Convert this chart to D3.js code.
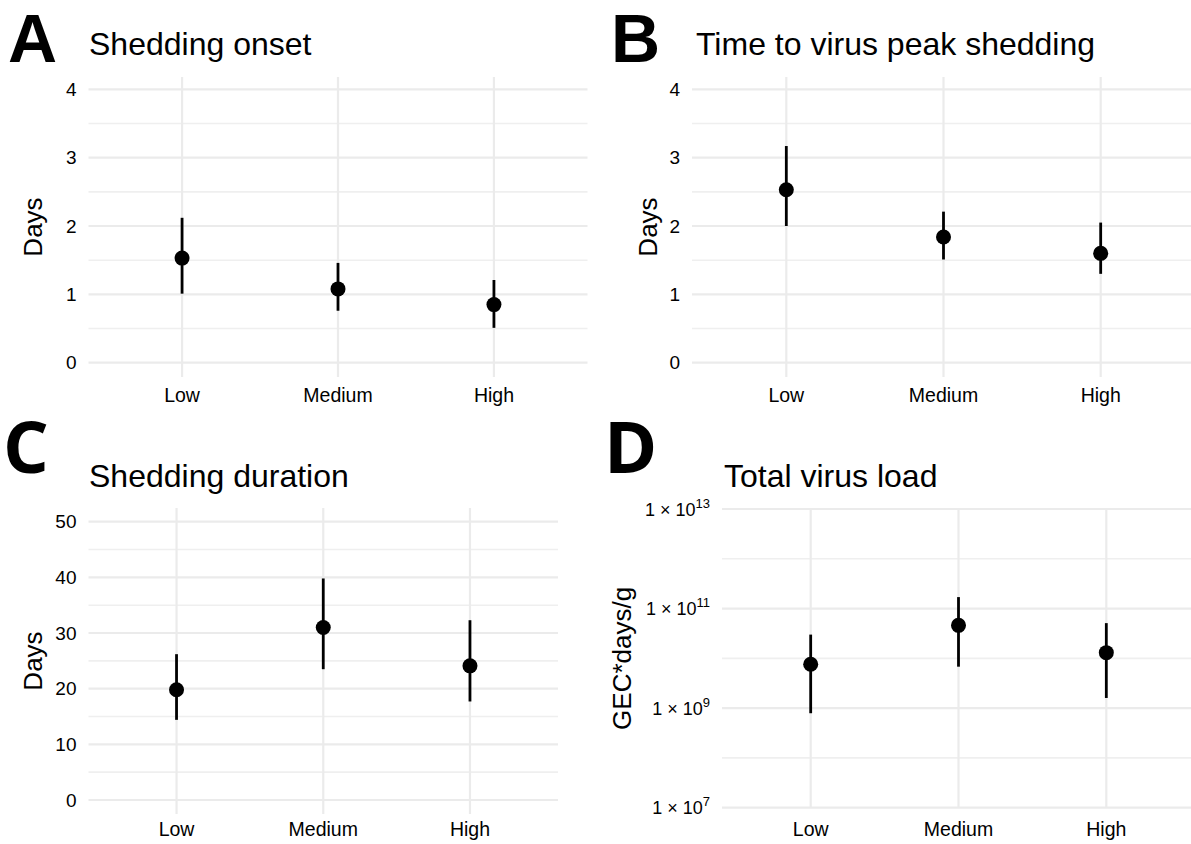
<!DOCTYPE html>
<html>
<head>
<meta charset="utf-8">
<script src="https://cdn.jsdelivr.net/npm/d3@7"></script>
<style>
  html, body { margin: 0; padding: 0; background: #fff; }
  svg { display: block; }
  text { font-family: "Liberation Sans", Arial, Helvetica, sans-serif; fill: #000; }
</style>
</head>
<body>
<svg id="chart" width="1191" height="844"></svg>
<script>
// ---- data ----
const categories = ["Low", "Medium", "High"];

const onsetMean = [1.53, 1.08, 0.85];
const onsetLow  = [1.01, 0.76, 0.51];
const onsetHigh = [2.12, 1.46, 1.21];

const peakMean = [2.53, 1.84, 1.60];
const peakLow  = [2.00, 1.51, 1.30];
const peakHigh = [3.17, 2.21, 2.05];

const durationMean = [19.8, 31.0, 24.1];
const durationLow  = [14.4, 23.5, 17.7];
const durationHigh = [26.2, 39.8, 32.3];

const loadMean = [7.6e9, 4.6e10, 1.3e10];
const loadLow  = [7.9e8, 6.8e9, 1.6e9];
const loadHigh = [3.0e10, 1.7e11, 5.1e10];

const daysTicks = [0, 1, 2, 3, 4];
const daysMinor = [0.5, 1.5, 2.5, 3.5];
const durTicks = [0, 10, 20, 30, 40, 50];
const durMinor = [5, 15, 25, 35, 45];
const loadTickExp = [7, 9, 11, 13];
const loadMinorExp = [8, 10, 12];

const panelLetters = ["A", "B", "C", "D"];
const panelTitles = ["Shedding onset", "Time to virus peak shedding", "Shedding duration", "Total virus load"];
const yTitles = ["Days", "Days", "Days", "GEC*days/g"];

// ---- drawing ----
const svg = d3.select("#chart");

function drawPanel(p) {
  const g = svg.append("g");
  const x = d3.scalePoint().domain(categories).range(p.xRange).padding(0.6);
  const y = p.y;
  const [x0, x1] = p.xRange;
  const [yb, yt] = p.yPanel;

  // minor grid
  g.selectAll(".minor").data(p.minor).join("line")
    .attr("x1", x0).attr("x2", x1)
    .attr("y1", d => y(d)).attr("y2", d => y(d))
    .attr("stroke", "#efefef").attr("stroke-width", 1.6);
  // major horizontal grid
  g.selectAll(".major").data(p.ticks).join("line")
    .attr("x1", x0).attr("x2", x1)
    .attr("y1", d => y(d)).attr("y2", d => y(d))
    .attr("stroke", "#ebebeb").attr("stroke-width", 2.2);
  // vertical grid
  g.selectAll(".vgrid").data(categories).join("line")
    .attr("x1", d => x(d)).attr("x2", d => x(d))
    .attr("y1", yt).attr("y2", yb)
    .attr("stroke", "#ebebeb").attr("stroke-width", 2.2);

  // y tick labels
  const yl = g.selectAll(".ylab").data(p.ticks).join("text")
    .attr("x", x0 - 12).attr("y", d => y(d) + 6.5)
    .attr("text-anchor", "end")
    .attr("font-size", p.sci ? 18 : 19).attr("fill", "#222");
  if (p.sci) {
    yl.each(function(d) {
      const t = d3.select(this);
      t.append("tspan").text("1 \u00d7 10");
      t.append("tspan").attr("font-size", 13).attr("dy", -8).text(Math.round(Math.log10(d)));
    });
  } else {
    yl.text(d => d);
  }

  // x tick labels
  g.selectAll(".xlab").data(categories).join("text")
    .attr("x", d => x(d)).attr("y", p.xLabY)
    .attr("text-anchor", "middle")
    .attr("font-size", 19.5).attr("fill", "#222")
    .text(d => d);

  // y title
  g.append("text")
    .attr("transform", `translate(${p.yTitleX},${(yb + yt) / 2}) rotate(-90)`)
    .attr("text-anchor", "middle")
    .attr("font-size", 26)
    .text(p.yTitle);

  // title
  g.append("text").attr("x", p.titleX).attr("y", p.titleY)
    .attr("font-size", 32).text(p.title);

  // panel letter
  g.append("text").attr("x", p.letterX).attr("y", p.letterY)
    .attr("font-size", p.letterSize).attr("font-weight", 700)
    .style("font-family", p.letterFont)
    .text(p.letter);

  // error bars
  const rows = categories.map((c, i) => ({ c, m: p.mean[i], lo: p.low[i], hi: p.high[i] }));
  g.selectAll(".err").data(rows).join("line")
    .attr("x1", d => x(d.c)).attr("x2", d => x(d.c))
    .attr("y1", d => y(d.lo)).attr("y2", d => y(d.hi))
    .attr("stroke", "#000").attr("stroke-width", 2.8);
  g.selectAll(".pt").data(rows).join("circle")
    .attr("cx", d => x(d.c)).attr("cy", d => y(d.m))
    .attr("r", 7.5).attr("fill", "#000");
}

drawPanel({
  xRange: [88.5, 587.5], yPanel: [377, 77],
  y: d3.scaleLinear().domain([0, 4]).range([362.7, 89.3]),
  ticks: daysTicks, minor: daysMinor,
  mean: onsetMean, low: onsetLow, high: onsetHigh,
  xLabY: 402, yTitleX: 42, yTitle: yTitles[0],
  title: panelTitles[0], titleX: 89, titleY: 55,
  letter: panelLetters[0], letterX: 8, letterY: 62, letterSize: 68,
  letterFont: "'Liberation Sans', Arial, sans-serif"
});

drawPanel({
  xRange: [692, 1195], yPanel: [377, 77],
  y: d3.scaleLinear().domain([0, 4]).range([362.7, 89.3]),
  ticks: daysTicks, minor: daysMinor,
  mean: peakMean, low: peakLow, high: peakHigh,
  xLabY: 402, yTitleX: 657, yTitle: yTitles[1],
  title: panelTitles[1], titleX: 696, titleY: 55,
  letter: panelLetters[1], letterX: 611, letterY: 62, letterSize: 68,
  letterFont: "'Liberation Sans', Arial, sans-serif"
});

drawPanel({
  xRange: [88.5, 558], yPanel: [814, 508],
  y: d3.scaleLinear().domain([0, 50]).range([800, 521.7]),
  ticks: durTicks, minor: durMinor,
  mean: durationMean, low: durationLow, high: durationHigh,
  xLabY: 836, yTitleX: 42, yTitle: yTitles[2],
  title: panelTitles[2], titleX: 89, titleY: 487,
  letter: panelLetters[2], letterX: 3, letterY: 473, letterSize: 72,
  letterFont: "'Open Sans', 'DejaVu Sans', sans-serif"
});

drawPanel({
  xRange: [722, 1195], yPanel: [807.7, 509],
  y: d3.scaleLog().domain([1e7, 1e13]).range([807.7, 509]),
  ticks: loadTickExp.map(e => Math.pow(10, e)), minor: loadMinorExp.map(e => Math.pow(10, e)),
  mean: loadMean, low: loadLow, high: loadHigh,
  xLabY: 836, yTitleX: 631, yTitle: yTitles[3], sci: true,
  title: panelTitles[3], titleX: 724, titleY: 487,
  letter: panelLetters[3], letterX: 604, letterY: 473, letterSize: 72,
  letterFont: "'Open Sans', 'DejaVu Sans', sans-serif"
});
</script>
</body>
</html>
